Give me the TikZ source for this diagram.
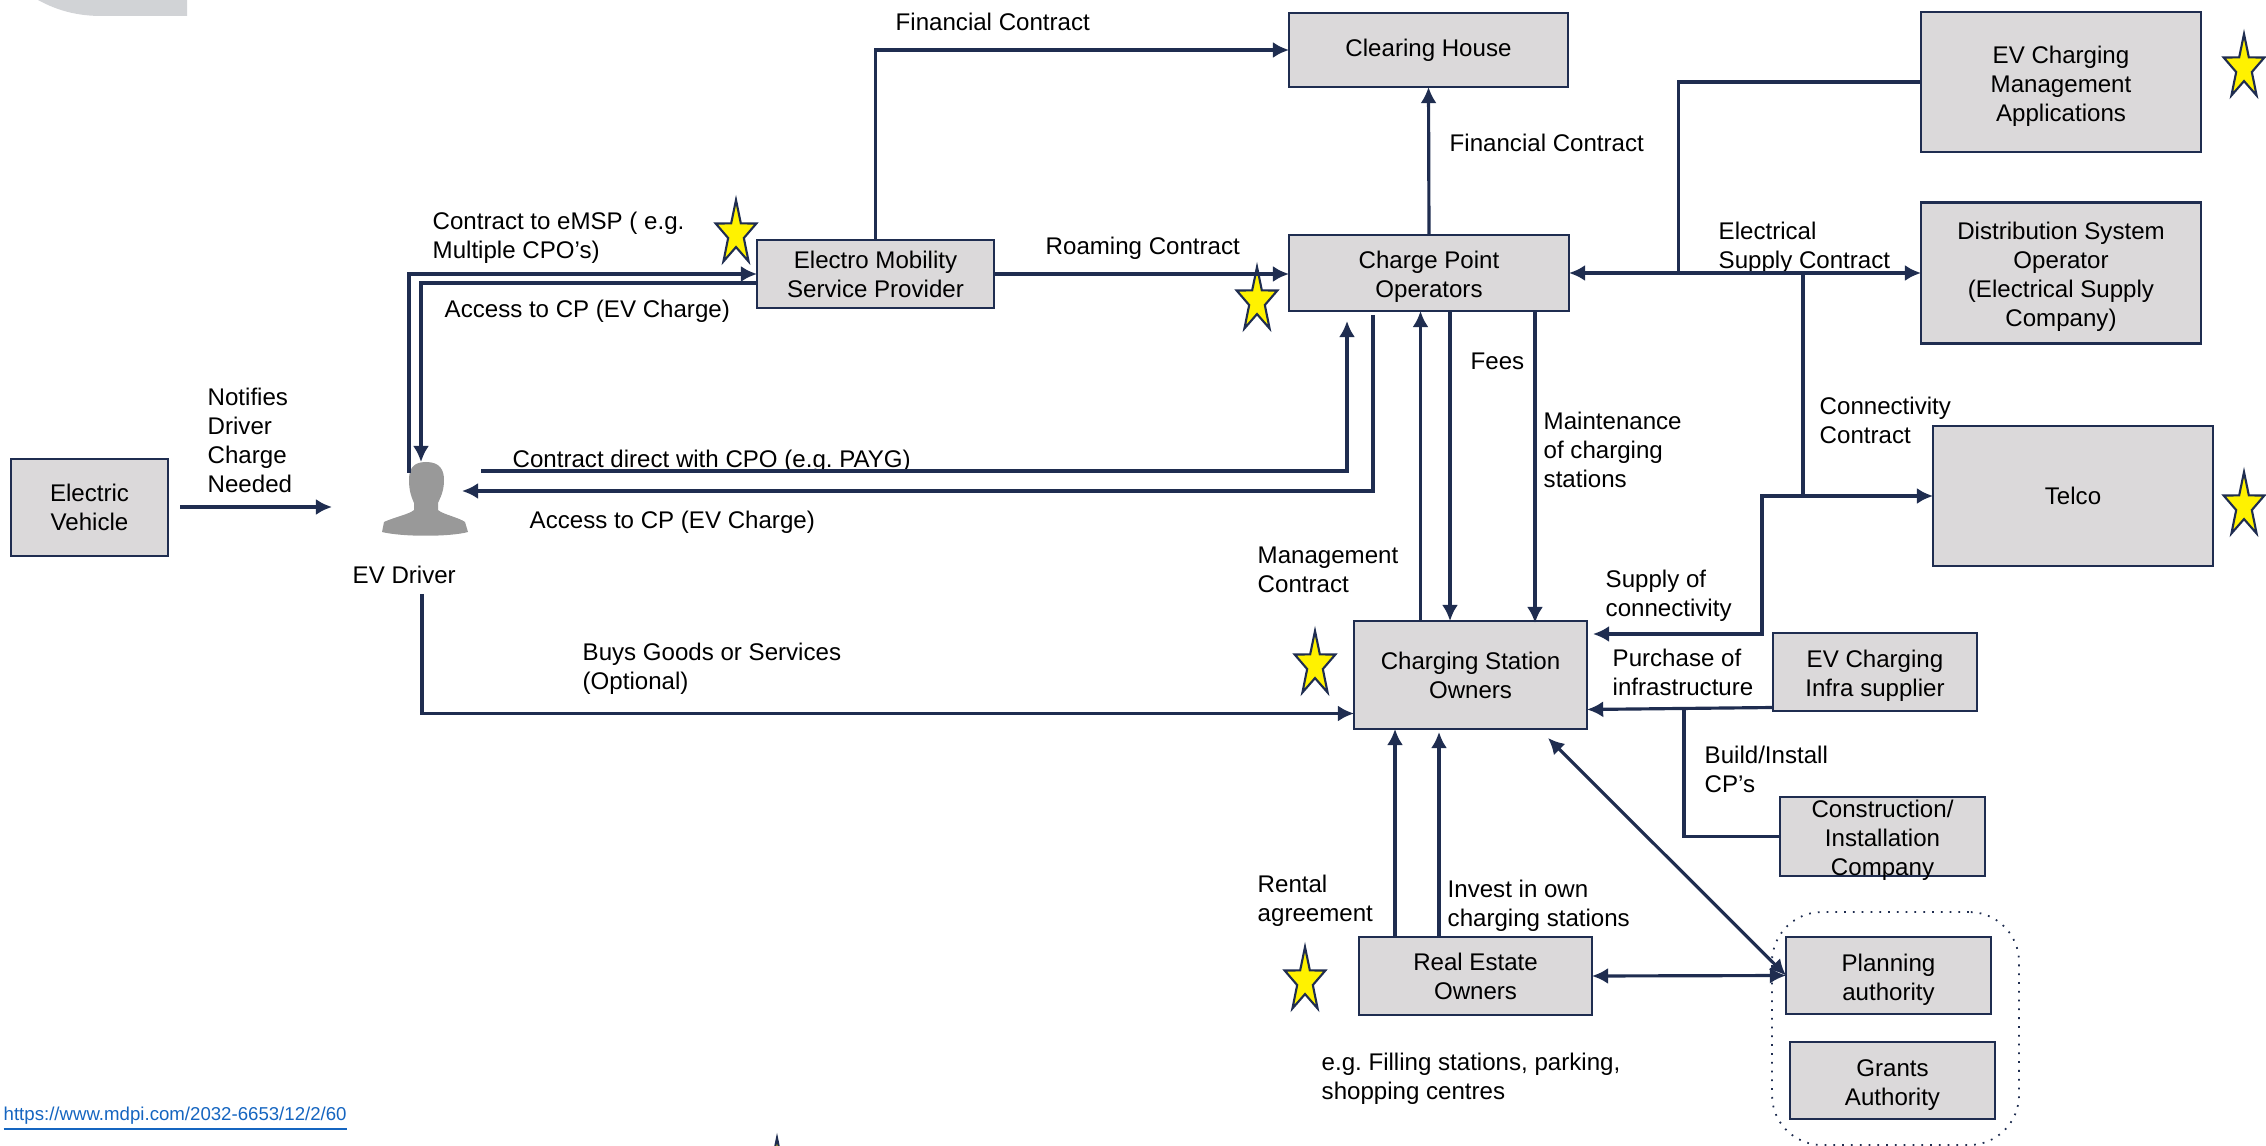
\documentclass[tikz,border=0pt]{standalone}
\usepackage{fontspec}
\setmainfont{Liberation Sans}
\usetikzlibrary{arrows.meta,shapes.geometric,calc,positioning}
\usepackage{xcolor}
\frenchspacing
\newcommand{\pxu}{0.01cm}
\newcommand{\lowline}{\rule{0pt}{7.2pt}}
\definecolor{navyline}{HTML}{1F2D50}
\definecolor{boxgray}{HTML}{DBD9DA}
\definecolor{cornergray}{HTML}{D1D3D6}
\definecolor{linkblue}{HTML}{1565C0}
\definecolor{persongray}{HTML}{999999}
\tikzset{
    boxsty/.style={draw=navyline,fill=boxgray,rectangle,line width=0.75pt,inner sep=0pt,outer sep=0pt,align=center,font=\fontsize{6.85}{8.25}\selectfont},
    txtsty/.style={inner sep=0pt,align=left,anchor=west,font=\fontsize{6.85}{8.25}\selectfont},
    ctrsty/.style={inner sep=0pt,align=center,font=\fontsize{6.85}{8.25}\selectfont},
    linesty/.style={draw=navyline,line width=0.9pt},
    arrsty/.style={linesty,->},
    dblsty/.style={linesty,<->},
    starsty/.style={star,star points=5,star point ratio=2.6,draw=navyline,fill=yellow,line width=0.6pt,minimum size=68*\pxu,inner sep=0pt,xscale=0.63,transform shape},
    groupsty/.style={draw=navyline,dotted,line width=0.5pt,rectangle,rounded corners=0.5cm,minimum width=247*\pxu,minimum height=233*\pxu},
}

\begin{document}
\begin{tikzpicture}[x=\pxu,y=-\pxu,>={Latex[length=4.6pt,width=4.6pt]}]
  \useasboundingbox (0,0) rectangle (2266,1146);
  \fill[cornergray] (38,0) .. controls (58,11) and (78,16) .. (102,16) -- (187,16) -- (187,0) -- cycle;

  \node[boxsty,minimum width=157*\pxu,minimum height=97*\pxu] (ev) at (89.5,507.5) {Electric\\Vehicle};
  \node[boxsty,minimum width=279*\pxu,minimum height=74*\pxu] (clearing) at (1428.5,50) {Clearing House};
  \node[boxsty,minimum width=237*\pxu,minimum height=68*\pxu] (emsp) at (875.5,274) {Electro Mobility\\Service Provider};
  \node[boxsty,minimum width=280*\pxu,minimum height=76*\pxu] (cpo) at (1429,273) {\lowline Charge Point\\Operators};
  \node[boxsty,minimum width=280*\pxu,minimum height=140*\pxu] (mgmt) at (2061,82) {\lowline EV Charging\\Management\\Applications};
  \node[boxsty,minimum width=280*\pxu,minimum height=141*\pxu] (dso) at (2061,273) {\lowline Distribution System\\Operator\\(Electrical Supply\\Company)};
  \node[boxsty,minimum width=280*\pxu,minimum height=140*\pxu] (telco) at (2073,496) {Telco};
  \node[boxsty,minimum width=233*\pxu,minimum height=108*\pxu] (cso) at (1470.5,675) {Charging Station\\Owners};
  \node[boxsty,minimum width=204*\pxu,minimum height=78*\pxu] (infra) at (1875,672) {\lowline EV Charging\\Infra supplier};
  \node[boxsty,minimum width=205*\pxu,minimum height=79*\pxu] (build) at (1882.5,836.5) {};
  \node[ctrsty] (buildtxt) at (1882.5,840) {Construction/\\Installation\\Company};
  \node[boxsty,minimum width=233*\pxu,minimum height=78*\pxu] (estate) at (1475.5,976) {Real Estate\\Owners};
  \node[groupsty] (group) at (1895.5,1028.5) {};
  \node[boxsty,minimum width=205*\pxu,minimum height=77*\pxu] (planning) at (1888.5,975.5) {\lowline Planning\\authority};
  \node[boxsty,minimum width=205*\pxu,minimum height=77*\pxu] (grants) at (1892.5,1080.5) {\lowline Grants\\Authority};

  \node[starsty] (stara) at (736,234) {};
  \node[starsty] (starb) at (1257,301) {};
  \node[starsty] (starc) at (1315,665) {};
  \node[starsty] (stard) at (1305,981) {};
  \node[starsty] (stare) at (2244,68) {};
  \node[starsty] (starf) at (2244,506) {};
  \node[starsty] (starg) at (777,1172) {};

  \fill[persongray] (426,462) .. controls (440,462) and (444,470) .. (444,480) .. controls (444,492) and (440,498) .. (438,503) -- (438,510) .. controls (442,514) and (460,518) .. (465,522) -- (468,532) .. controls (450,537) and (402,537) .. (382,532) -- (384,522) .. controls (392,518) and (410,514) .. (414,510) -- (414,503) .. controls (412,498) and (409,492) .. (409,480) .. controls (409,470) and (412,462) .. (426,462) -- cycle;
  \coordinate (driver) at (426,500);

  \node[txtsty] (lfina) at (895,22) {Financial Contract};
  \node[txtsty] (lfinb) at (1449,143) {Financial Contract};
  \node[txtsty] (lemsp) at (432,238) {Contract to eMSP ( e.g.\\Multiple CPO’s)};
  \node[txtsty] (laccessa) at (444,311) {Access to CP (EV Charge)};
  \node[txtsty] (lroam) at (1045,248) {Roaming Contract};
  \node[txtsty] (lnotify) at (207,440) {Notifies\\Driver\\Charge\\Needed};
  \node[txtsty] (ldriver) at (352,575) {EV Driver};
  \node[txtsty] (ldirect) at (512,461) {Contract direct with CPO (e.g. PAYG)};
  \node[txtsty] (laccessb) at (529,522) {Access to CP (EV Charge)};
  \node[txtsty] (lfees) at (1470,361) {Fees};
  \node[txtsty] (lmaint) at (1543,450) {Maintenance\\of charging\\stations};
  \node[txtsty] (lmanage) at (1257,570) {Management\\Contract};
  \node[txtsty] (lbuys) at (582,669) {Buys Goods or Services\\(Optional)};
  \node[txtsty] (lsupply) at (1605,596) {Supply of\\connectivity};
  \node[txtsty] (lpurchase) at (1612,672) {Purchase of\\infrastructure};
  \node[txtsty] (lbuild) at (1704,769) {Build/Install\\CP’s};
  \node[txtsty] (lrental) at (1257,901) {Rental\\agreement};
  \node[txtsty] (linvest) at (1447,906) {Invest in own\\charging stations};
  \node[txtsty] (lfilling) at (1321,1079) {e.g. Filling stations, parking,\\shopping centres};
  \node[txtsty] (lelec) at (1718,248) {Electrical\\Supply Contract};
  \node[txtsty] (lconn) at (1819,420) {Connectivity\\Contract};
  \node[txtsty,font=\fontsize{5.3}{6.5}\selectfont,text=linkblue] (lurl) at (3,1119) {\underline{https://www.mdpi.com/2032-6653/12/2/60}};

  \coordinate (evout) at (180,507);
  \coordinate (evin) at (332,507);
  \draw[arrsty] (evout) -- (evin);

  \coordinate (emspup) at (409,473);
  \coordinate (emspdown) at (421,462);
  \coordinate (emspback) at (757,283);
  \draw[arrsty] (emspup) |- (emsp.west);
  \draw[arrsty] (emspback) -| (emspdown);

  \coordinate (directa) at (481,471);
  \coordinate (directb) at (1347,321);
  \draw[arrsty] (directa) -| (directb);
  \coordinate (backa) at (1373,315);
  \coordinate (backb) at (462,491);
  \draw[arrsty] (backa) |- (backb);

  \coordinate (buysa) at (422,594);
  \coordinate (buysb) at (1354,713.5);
  \draw[arrsty] (buysa) |- (buysb);

  \draw[arrsty] (emsp.north) |- (clearing.west);
  \draw[arrsty] (emsp.east) -- (emsp.east -| cpo.west);
  \draw[arrsty] (cpo.north) -- (clearing.south);

  \coordinate (manx) at (1420.5,0);
  \coordinate (feesx) at (1450,0);
  \coordinate (maintx) at (1535,0);
  \draw[arrsty] (manx |- cso.north) -- (manx |- cpo.south);
  \draw[arrsty] (feesx |- cpo.south) -- (feesx |- cso.north);
  \draw[arrsty] ($(maintx |- cpo.south)$) -- ($(maintx |- cso.north)+(0,2)$);

  \coordinate (mgmtx) at (1678.5,0);
  \coordinate (connx) at (1803,0);
  \coordinate (supplyx) at (1762,0);
  \coordinate (supplyin) at (1593,634);
  \draw[dblsty] (cpo.east) -- (dso.west);
  \draw[linesty] (mgmt.west) -| (mgmtx |- dso.west);
  \draw[arrsty] (connx |- dso.west) |- (telco.west);
  \draw[arrsty] (connx |- telco.west) -| (supplyx |- supplyin) -- (supplyin);

  \coordinate (infraout) at (1773,707.5);
  \coordinate (csoin) at (1587,709.5);
  \coordinate (buildx) at (1684,709);
  \draw[arrsty] (infraout) -- (csoin);
  \draw[linesty] (buildx) |- (build.west);

  \coordinate (rentx) at (1395,0);
  \coordinate (investx) at (1439,0);
  \draw[arrsty] (rentx |- estate.north) -- (rentx |- cso.south);
  \draw[arrsty] (investx |- estate.north) -- ($(investx |- cso.south)+(0,3)$);
  \draw[dblsty] (estate.east) -- (planning.west);
  \coordinate (diagtop) at (1548,738);
  \draw[dblsty] (diagtop) -- (planning.west);
\end{tikzpicture}
\end{document}
